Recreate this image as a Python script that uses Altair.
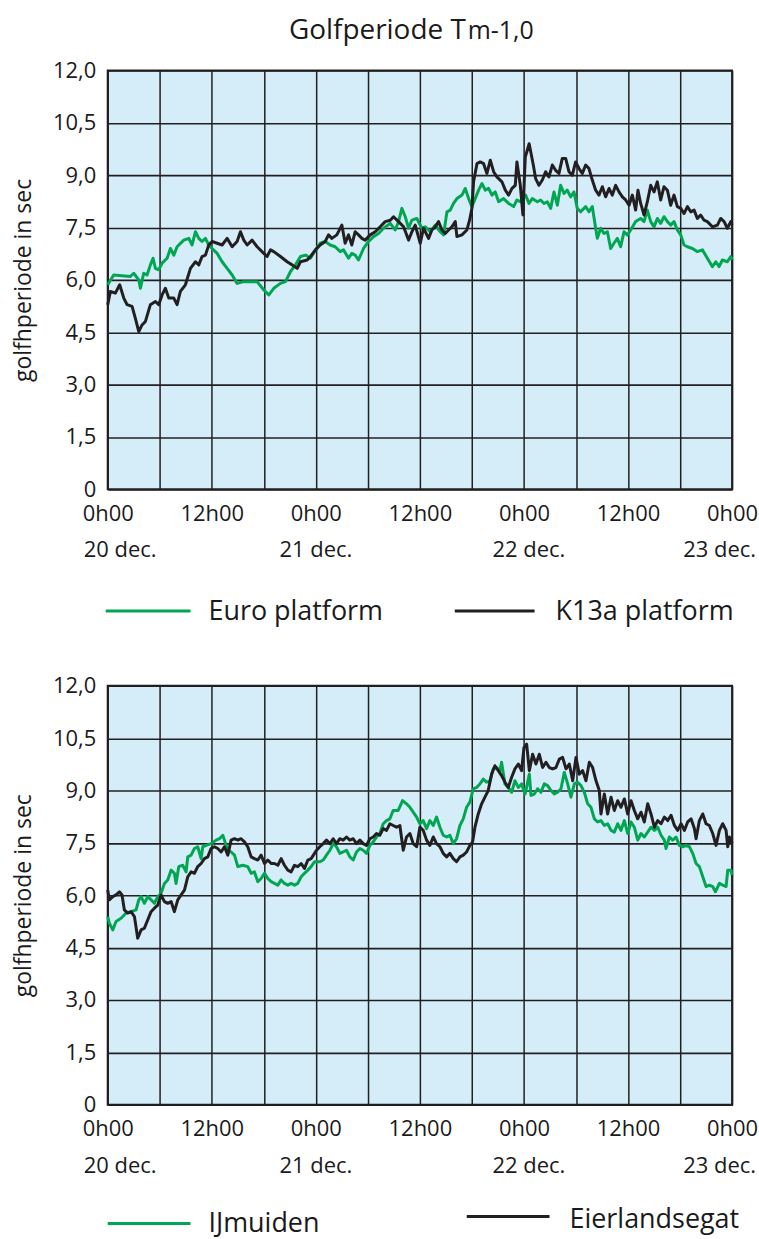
import altair as alt
import pandas as pd

FONT = "Open Sans"
GREEN = "#00a651"
BLACK = "#231f20"
SKY = "#d4edf9"
INK = "#1a1a1a"

# Wave period Tm-1,0 (s); hours counted from 20 dec. 0h00
EURO_H = [0.0, 0.69, 2.62, 3.0, 3.58, 3.77, 4.15, 4.54, 4.92, 5.23,
          5.5, 5.88, 6.27, 6.85, 7.23, 7.62, 8.0, 8.77, 9.35, 9.73,
          10.12, 10.5, 10.88, 11.27, 11.65, 12.04, 12.62, 13.19, 13.77, 14.35,
          14.92, 15.69, 17.23, 18.0, 18.58, 19.15, 19.92, 20.5, 21.08, 21.65,
          22.23, 22.81, 23.38, 23.96, 24.5, 25.08, 25.65, 26.23, 26.81, 27.19,
          27.77, 28.15, 28.54, 28.92, 29.5, 30.08, 30.65, 31.23, 31.81, 32.58,
          33.15, 33.54, 33.92, 34.31, 34.69, 35.08, 35.65, 36.23, 36.62, 37.19,
          37.77, 38.35, 38.73, 39.12, 39.5, 39.88, 40.27, 40.85, 41.23, 41.62,
          42.0, 42.38, 42.77, 43.15, 43.54, 43.92, 44.31, 44.69, 45.08, 45.65,
          46.23, 46.81, 47.19, 47.58, 48.19, 48.58, 48.96, 49.54, 49.92, 50.31,
          50.69, 51.08, 51.46, 51.85, 52.23, 52.62, 53.0, 53.38, 53.77, 54.15,
          54.54, 55.12, 55.5, 55.88, 56.27, 56.46, 56.85, 57.23, 57.62, 58.0,
          58.38, 58.77, 59.15, 59.54, 59.92, 60.31, 60.88, 61.46, 61.85, 62.23,
          62.62, 63.0, 63.38, 63.77, 64.15, 64.54, 64.92, 65.31, 65.69, 66.08,
          66.46, 66.85, 67.42, 68.0, 68.58, 69.15, 69.73, 70.12, 70.5, 70.88,
          71.46, 71.85, 72.0]
EURO_V = [5.86, 6.14, 6.10, 6.19, 6.0, 5.76, 6.19, 6.14, 6.43, 6.62,
          6.33, 6.29, 6.48, 6.62, 6.90, 6.71, 6.95, 7.14, 7.19, 7.0,
          7.38, 7.19, 7.10, 7.19, 7.0, 6.90, 6.76, 6.52, 6.33, 6.14,
          5.90, 5.95, 5.95, 5.71, 5.57, 5.76, 5.90, 5.95, 6.24, 6.43,
          6.67, 6.71, 6.62, 6.86, 7.05, 7.10, 7.0, 6.95, 6.81, 6.86,
          6.62, 6.76, 6.71, 6.57, 6.90, 7.10, 7.24, 7.33, 7.48, 7.62,
          7.43, 7.67, 8.05, 7.81, 7.48, 7.71, 7.76, 7.48, 7.52, 7.38,
          7.57, 7.38, 7.29, 7.95, 8.0, 8.19, 8.33, 8.43, 8.62, 8.33,
          8.10, 8.33, 8.57, 8.76, 8.57, 8.62, 8.43, 8.52, 8.24, 8.33,
          8.19, 8.10, 8.29, 8.24, 8.43, 8.19, 8.33, 8.24, 8.29, 8.19,
          8.24, 8.05, 8.52, 8.14, 8.71, 8.48, 8.57, 8.38, 8.52, 8.05,
          7.95, 8.10, 7.95, 8.10, 7.48, 7.19, 7.48, 7.33, 7.38, 6.90,
          7.05, 7.19, 6.95, 7.38, 7.29, 7.43, 7.67, 7.76, 7.67, 8.0,
          7.67, 7.52, 7.76, 7.62, 7.81, 7.67, 7.57, 7.67, 7.43, 7.29,
          7.0, 6.95, 6.90, 6.81, 6.86, 6.62, 6.38, 6.52, 6.38, 6.57,
          6.52, 6.67, 6.57]

K13A_H = [0.0, 0.31, 0.88, 1.38, 1.85, 2.23, 2.81, 3.19, 3.58, 3.96,
          4.35, 4.92, 5.5, 5.88, 6.27, 6.65, 7.04, 7.62, 8.0, 8.38,
          8.96, 9.54, 10.12, 10.5, 10.88, 11.27, 11.65, 12.04, 12.62, 13.19,
          13.77, 14.35, 14.92, 15.31, 15.69, 16.08, 16.65, 17.23, 18.0, 18.38,
          18.77, 19.15, 19.92, 20.69, 21.27, 21.85, 22.23, 23.0, 23.38, 23.96,
          24.5, 25.08, 25.46, 25.85, 26.42, 27.0, 27.38, 27.77, 28.15, 28.54,
          28.92, 29.31, 29.69, 30.27, 30.85, 31.42, 32.0, 32.58, 32.96, 33.54,
          34.12, 34.69, 35.08, 35.46, 36.04, 36.42, 37.0, 37.38, 37.77, 38.15,
          38.54, 38.92, 39.31, 39.69, 40.08, 40.27, 40.85, 41.42, 41.73, 42.0,
          42.19, 42.58, 42.96, 43.35, 43.73, 44.12, 44.5, 44.88, 45.46, 45.85,
          46.23, 46.62, 47.0, 47.19, 47.58, 47.88, 48.15, 48.6, 49.08, 49.35,
          49.73, 50.12, 50.5, 50.88, 51.27, 51.65, 52.04, 52.42, 52.81, 53.19,
          53.58, 53.96, 54.35, 54.73, 55.12, 55.5, 55.88, 56.27, 56.65, 57.04,
          57.42, 57.81, 58.19, 58.58, 58.96, 59.35, 59.73, 60.12, 60.5, 60.88,
          61.15, 61.46, 61.85, 62.23, 62.62, 63.0, 63.38, 63.77, 64.15, 64.54,
          64.92, 65.31, 65.69, 66.08, 66.46, 66.85, 67.23, 67.62, 68.0, 68.38,
          68.77, 69.15, 69.73, 70.31, 70.69, 71.08, 71.46, 71.85, 72.0]
K13A_V = [5.29, 5.67, 5.62, 5.86, 5.48, 5.29, 5.24, 4.90, 4.52, 4.71,
          4.81, 5.29, 5.38, 5.29, 5.57, 5.76, 5.48, 5.48, 5.29, 5.67,
          5.86, 6.33, 6.52, 6.43, 6.67, 6.71, 7.0, 7.10, 7.05, 7.0,
          7.19, 6.95, 7.10, 7.38, 7.14, 7.0, 7.14, 6.95, 6.76, 6.67,
          6.86, 6.81, 6.67, 6.52, 6.43, 6.33, 6.52, 6.57, 6.67, 6.86,
          7.0, 7.10, 7.29, 7.19, 7.29, 7.57, 7.05, 7.29, 7.0, 7.38,
          7.29, 7.19, 7.14, 7.29, 7.38, 7.52, 7.67, 7.71, 7.81, 7.67,
          7.52, 7.14, 7.38, 7.57, 7.05, 7.48, 7.19, 7.43, 7.52, 7.67,
          7.43, 7.33, 7.43, 7.52, 7.67, 7.24, 7.29, 7.43, 7.71, 8.05,
          8.81, 9.33, 9.38, 9.33, 9.05, 9.43, 9.10, 8.95, 8.81, 8.57,
          8.43, 8.62, 8.71, 9.38, 8.71, 7.86, 9.52, 9.90, 9.29, 8.90,
          8.71, 8.86, 9.10, 8.95, 9.29, 9.14, 9.05, 9.48, 9.48, 9.10,
          9.0, 9.38, 9.19, 9.05, 9.29, 9.19, 8.86, 8.57, 8.43, 8.67,
          8.38, 8.62, 8.43, 8.71, 8.52, 8.38, 8.29, 8.14, 8.43, 8.0,
          8.57, 8.19, 7.86, 8.24, 8.71, 8.52, 8.81, 8.29, 8.67, 8.57,
          8.14, 8.43, 8.10, 8.05, 7.90, 8.10, 7.95, 8.0, 7.76, 7.86,
          7.71, 7.67, 7.52, 7.57, 7.76, 7.67, 7.48, 7.67, 7.57]

IJM_H = [0.0, 0.19, 0.58, 0.96, 1.54, 2.12, 2.69, 3.27, 3.58, 3.85,
         4.23, 4.62, 5.0, 5.38, 5.77, 6.15, 6.54, 6.92, 7.31, 7.69,
         7.88, 8.19, 8.65, 9.04, 9.23, 9.62, 10.0, 10.38, 10.77, 10.96,
         11.35, 11.92, 12.5, 12.88, 13.27, 13.46, 13.85, 14.23, 14.62, 15.0,
         15.58, 16.15, 16.54, 16.92, 17.31, 17.69, 18.08, 18.46, 18.85, 19.23,
         19.62, 20.0, 20.38, 20.77, 21.15, 21.54, 21.92, 22.31, 22.69, 23.08,
         23.46, 23.85, 24.46, 24.85, 25.23, 25.62, 26.0, 26.38, 26.77, 27.15,
         27.54, 27.92, 28.31, 28.69, 29.08, 29.46, 29.85, 30.23, 30.62, 31.0,
         31.38, 31.77, 32.15, 32.54, 32.92, 33.5, 34.0, 34.46, 34.85, 35.23,
         35.62, 36.0, 36.38, 36.77, 37.15, 37.54, 37.92, 38.31, 38.69, 39.08,
         39.46, 39.85, 40.23, 40.62, 41.0, 41.38, 41.77, 42.15, 42.54, 42.92,
         43.31, 43.69, 44.08, 44.46, 44.85, 45.23, 45.42, 45.81, 46.19, 46.58,
         46.96, 47.35, 47.73, 48.12, 48.23, 48.62, 48.81, 49.19, 49.58, 49.96,
         50.35, 50.73, 51.12, 51.5, 51.88, 52.27, 52.65, 53.04, 53.42, 53.81,
         54.19, 54.58, 54.96, 55.35, 55.73, 56.12, 56.5, 56.88, 57.27, 57.65,
         58.04, 58.42, 58.81, 59.19, 59.58, 59.96, 60.35, 60.73, 61.12, 61.5,
         61.88, 62.27, 62.65, 63.04, 63.42, 63.81, 64.19, 64.38, 64.77, 65.15,
         65.54, 65.92, 66.31, 66.69, 67.08, 67.46, 67.85, 68.23, 68.62, 69.0,
         69.38, 69.77, 70.08, 70.54, 70.92, 71.31, 71.5, 71.88, 72.0]
IJM_V = [5.39, 5.20, 5.01, 5.25, 5.34, 5.49, 5.53, 5.58, 5.87, 5.96,
         5.77, 5.96, 5.87, 5.77, 5.96, 6.06, 6.34, 6.44, 6.72, 6.63,
         6.34, 6.82, 6.86, 6.67, 7.10, 7.15, 7.34, 7.39, 7.05, 7.39,
         7.43, 7.48, 7.58, 7.62, 7.72, 7.58, 7.29, 7.24, 7.15, 6.82,
         6.86, 6.82, 6.63, 6.67, 6.39, 6.48, 6.63, 6.48, 6.39, 6.34,
         6.29, 6.44, 6.34, 6.29, 6.34, 6.29, 6.34, 6.53, 6.63, 6.72,
         6.82, 6.96, 6.96, 7.01, 7.15, 7.29, 7.48, 7.39, 7.20, 7.24,
         7.29, 7.10, 7.01, 7.24, 7.34, 7.29, 7.20, 7.43, 7.53, 7.67,
         7.77, 8.05, 8.14, 8.19, 8.43, 8.43, 8.71, 8.62, 8.52, 8.38,
         8.24, 8.05, 8.14, 7.91, 8.14, 8.0, 8.24, 7.95, 7.72, 7.67,
         7.72, 7.48, 7.62, 8.0, 8.19, 8.52, 8.67, 9.05, 9.09, 9.19,
         9.33, 9.24, 9.28, 9.62, 9.66, 9.57, 9.81, 9.19, 9.09, 8.95,
         9.28, 9.09, 9.19, 8.90, 9.0, 9.47, 8.86, 8.90, 9.05, 8.95,
         9.19, 9.14, 9.0, 8.90, 8.95, 9.05, 9.52, 9.19, 8.81, 9.19,
         9.24, 9.14, 8.95, 8.62, 8.52, 8.19, 8.10, 8.14, 8.0, 8.05,
         7.86, 7.81, 8.05, 7.86, 8.14, 7.77, 8.10, 7.95, 7.58, 7.77,
         7.67, 7.81, 7.95, 7.86, 7.95, 7.72, 7.58, 7.34, 7.67, 7.58,
         7.67, 7.43, 7.39, 7.43, 7.39, 7.20, 6.91, 6.82, 6.53, 6.25,
         6.29, 6.25, 6.10, 6.34, 6.29, 6.25, 6.72, 6.72, 6.58]

EIER_H = [0.0, 0.19, 0.58, 0.96, 1.35, 1.65, 1.92, 2.31, 2.69, 3.08,
          3.46, 3.85, 4.23, 4.62, 5.0, 5.38, 5.77, 6.15, 6.54, 6.92,
          7.31, 7.69, 8.08, 8.46, 8.85, 9.23, 9.62, 10.0, 10.38, 10.77,
          11.15, 11.54, 11.92, 12.31, 12.69, 13.08, 13.46, 13.85, 14.23, 14.62,
          15.0, 15.38, 15.77, 16.15, 16.54, 16.92, 17.31, 17.69, 18.08, 18.46,
          18.85, 19.23, 19.62, 20.0, 20.38, 20.77, 21.15, 21.54, 21.92, 22.31,
          22.69, 23.08, 23.46, 23.85, 24.08, 24.46, 24.85, 25.23, 25.62, 26.0,
          26.38, 26.77, 27.15, 27.54, 27.92, 28.31, 28.69, 29.08, 29.46, 29.85,
          30.23, 30.62, 31.0, 31.38, 31.77, 32.15, 32.54, 32.92, 33.31, 33.69,
          34.08, 34.46, 34.85, 35.23, 35.62, 36.0, 36.38, 36.77, 37.15, 37.54,
          37.92, 38.31, 38.69, 39.08, 39.46, 39.85, 40.23, 40.62, 41.0, 41.38,
          41.77, 42.08, 42.35, 42.73, 43.12, 43.5, 43.88, 44.27, 44.65, 45.04,
          45.42, 45.81, 46.19, 46.58, 46.96, 47.35, 47.73, 48.0, 48.31, 48.62,
          49.0, 49.38, 49.77, 50.15, 50.54, 50.92, 51.31, 51.69, 52.08, 52.46,
          52.85, 53.23, 53.62, 54.0, 54.38, 54.77, 55.15, 55.54, 55.92, 56.31,
          56.69, 56.88, 57.27, 57.65, 58.04, 58.42, 58.81, 59.19, 59.58, 59.96,
          60.35, 60.73, 61.12, 61.5, 61.88, 62.27, 62.65, 63.04, 63.42, 63.81,
          64.19, 64.58, 64.96, 65.35, 65.73, 66.12, 66.5, 66.88, 67.27, 67.65,
          67.85, 68.23, 68.62, 69.0, 69.38, 69.77, 70.15, 70.54, 70.92, 71.31,
          71.5, 71.69, 72.0]
EIER_V = [6.15, 5.87, 5.96, 6.01, 6.10, 6.01, 5.58, 5.49, 5.53, 5.39,
          4.77, 5.01, 5.06, 5.30, 5.53, 5.63, 5.72, 6.01, 5.82, 5.77,
          5.82, 5.53, 5.87, 6.01, 6.15, 6.53, 6.67, 6.63, 6.82, 6.91,
          7.05, 7.10, 7.34, 7.39, 7.34, 7.24, 7.39, 7.15, 7.58, 7.62,
          7.58, 7.62, 7.53, 7.39, 7.10, 7.05, 7.01, 7.15, 6.91, 7.01,
          6.91, 6.91, 6.86, 7.05, 6.86, 6.72, 6.67, 6.86, 6.82, 6.91,
          6.77, 7.01, 7.05, 7.20, 7.29, 7.39, 7.48, 7.58, 7.48, 7.62,
          7.48, 7.62, 7.58, 7.67, 7.58, 7.62, 7.48, 7.58, 7.48, 7.43,
          7.62, 7.67, 7.77, 7.72, 7.91, 7.86, 8.05, 8.0, 7.95, 8.0,
          7.29, 7.67, 7.77, 7.48, 7.39, 7.95, 7.86, 7.58, 7.43, 7.67,
          7.48, 7.39, 7.20, 7.10, 7.20, 7.05, 6.96, 7.10, 7.15, 7.24,
          7.43, 7.53, 7.95, 8.33, 8.62, 8.81, 9.0, 9.47, 9.71, 9.57,
          9.43, 9.24, 9.09, 9.38, 9.62, 9.76, 9.57, 10.23, 10.33, 9.57,
          10.04, 9.76, 10.04, 9.66, 9.81, 9.66, 9.62, 9.66, 9.90, 9.95,
          9.62, 9.76, 9.28, 9.95, 9.47, 9.57, 9.28, 9.81, 9.66, 9.28,
          9.0, 8.33, 8.90, 8.33, 8.81, 8.43, 8.71, 8.52, 8.76, 8.33,
          8.71, 8.43, 8.19, 8.38, 8.10, 8.62, 8.33, 7.95, 8.14, 8.05,
          8.24, 8.14, 8.29, 8.0, 7.86, 8.05, 7.86, 8.10, 8.19, 7.91,
          7.62, 8.14, 8.33, 8.05, 8.0, 7.77, 7.43, 7.86, 8.05, 7.86,
          7.39, 7.67, 7.48]

DAY_LABELS = ["20 dec.", "21 dec.", "22 dec.", "23 dec."]
DAY_HOURS = [0, 24, 48, 72]
Y_TICKS = [0, 1.5, 3, 4.5, 6, 7.5, 9, 10.5, 12]
X_TICKS = list(range(0, 73, 6))

W, H = 626, 420
ONE = pd.DataFrame({"n": [0]})

x_enc = alt.X(
    "uur:Q",
    scale=alt.Scale(domain=[0, 72], nice=False, zero=False),
    axis=alt.Axis(
        values=X_TICKS,
        labelExpr="datum.value % 24 == 0 ? '0h00' : (datum.value % 12 == 0 ? '12h00' : '')",
        grid=True, gridColor=BLACK, gridWidth=1.5,
        ticks=False, domain=False, labelFlush=False,
        labelFont=FONT, labelFontSize=22, labelColor=INK, labelPadding=14,
        title=None,
    ),
)
y_enc = alt.Y(
    "periode:Q",
    scale=alt.Scale(domain=[0, 12], nice=False),
    axis=alt.Axis(
        values=Y_TICKS,
        labelExpr="datum.value == 0 ? '0' : replace(format(datum.value, '.1f'), '.', ',')",
        grid=True, gridColor=BLACK, gridWidth=1.6,
        ticks=False, domain=False,
        labelFont=FONT, labelFontSize=22, labelColor=INK, labelPadding=12,
        title="golfhperiode in sec", titleFont=FONT, titleFontSize=23,
        titleFontWeight="normal", titleColor=INK, titleAngle=-90,
        titleX=-84, titleY=H / 2, titleAlign="center", titleBaseline="middle",
    ),
)


def series(hours, values, colour):
    df = pd.DataFrame({"uur": hours, "periode": values})
    return alt.Chart(df).mark_line(
        color=colour, strokeWidth=3, strokeJoin="round"
    ).encode(x=x_enc, y=y_enc)


def day_labels():
    placing = [("left", -24), ("center", 0), ("center", 5), ("right", 24)]
    layers = []
    for hour, label, (align, dx) in zip(DAY_HOURS, DAY_LABELS, placing):
        df = pd.DataFrame({"uur": [hour], "tekst": [label]})
        layers.append(
            alt.Chart(df).mark_text(
                align=align, dx=dx, baseline="alphabetic",
                font=FONT, fontSize=22, color=INK,
            ).encode(x=x_enc, y=alt.value(H + 68), text="tekst:N")
        )
    return layers


def key(x1, x2, y_line, colour, tx, ty, name):
    line = alt.Chart(ONE).mark_rule(color=colour, strokeWidth=3).encode(
        x=alt.value(x1), x2=alt.value(x2), y=alt.value(y_line)
    )
    label = alt.Chart(ONE).mark_text(
        text=name, align="left", baseline="alphabetic",
        font=FONT, fontSize=27, color=INK,
    ).encode(x=alt.value(tx), y=alt.value(ty))
    return [line, label]


title_main = alt.Chart(ONE).mark_text(
    text="Golfperiode T", align="right", baseline="alphabetic",
    font=FONT, fontSize=28, color=INK,
).encode(x=alt.value(359), y=alt.value(-32))
title_sub = alt.Chart(ONE).mark_text(
    text="m-1,0", align="left", baseline="alphabetic",
    font=FONT, fontSize=25, color=INK,
).encode(x=alt.value(361), y=alt.value(-32))

# invisible corner mark that fixes the top-left margin of the page
corner = alt.Chart(ONE).mark_rect(opacity=0).encode(
    x=alt.value(-107), x2=alt.value(-106), y=alt.value(-68), y2=alt.value(-67)
)

top = alt.layer(
    series(EURO_H, EURO_V, GREEN),
    series(K13A_H, K13A_V, BLACK),
    *day_labels(),
    *key(-2, 83, H + 122, GREEN, 101, H + 131, "Euro platform"),
    *key(348, 428, H + 122, BLACK, 449, H + 131, "K13a platform"),
    title_main, title_sub, corner,
).properties(width=W, height=H)

bottom = alt.layer(
    series(IJM_H, IJM_V, GREEN),
    series(EIER_H, EIER_V, BLACK),
    *day_labels(),
    *key(0, 83, H + 119, GREEN, 101, H + 128, "IJmuiden"),
    *key(360, 443, H + 112, BLACK, 463, H + 124, "Eierlandsegat"),
).properties(width=W, height=H)

chart = alt.vconcat(top, bottom, spacing=197, bounds="flush").properties(
    padding=0, background="white"
).configure_view(fill=SKY, stroke=BLACK, strokeWidth=2)

chart.save("out.html", embed_options={"renderer": "svg", "actions": False})
